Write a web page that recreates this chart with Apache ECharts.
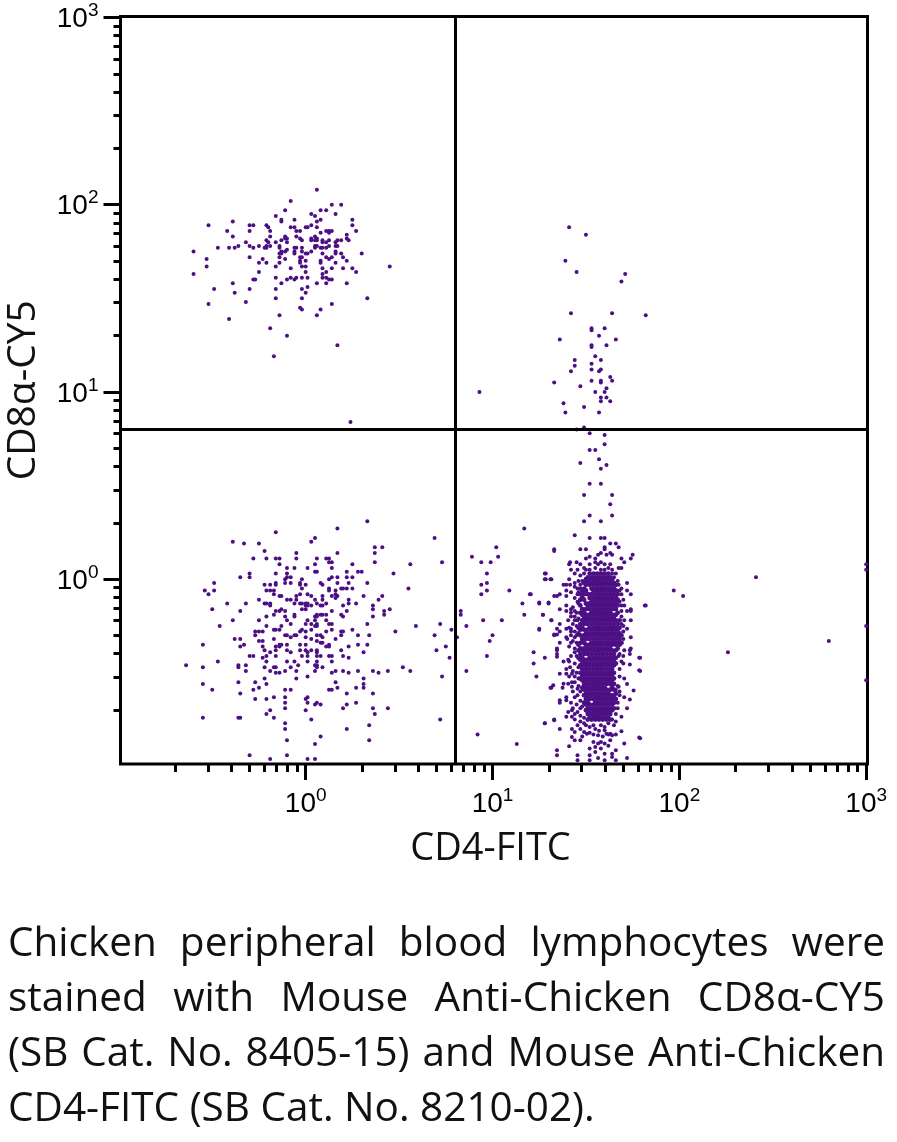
<!DOCTYPE html>
<html><head><meta charset="utf-8">
<style>html,body{margin:0;padding:0;background:#fff}#c{width:897px;height:1142px}</style>
<script src="https://cdn.jsdelivr.net/npm/echarts@6/dist/echarts.min.js"></script>
</head><body><div id="c"></div>
<script>
// All events are [log10 CD4-FITC, log10 CD8a-CY5].
const upperLeftEvents = [[.06,2.08],[-.08,2.02],[.14,2],[.19,2],[-.11,1.97],[.08,1.97],[.11,1.97],[.03,1.95],[.16,1.95],[.05,1.94],[-.16,1.94],[-.13,1.92],[-.13,1.91],[-.06,1.92],[.08,1.92],[.25,1.92],[.06,1.91],[-.39,1.91],[-.52,1.89],[-.3,1.89],[-.28,1.89],[-.21,1.89],[.25,1.89],[-.2,1.88],[-.08,1.88],[-.06,1.88],[0,1.88],[.01,1.88],[.03,1.89],[.06,1.88],[.11,1.86],[.125,1.86],[.14,1.86],[.125,1.85],[-.42,1.86],[-.3,1.86],[-.19,1.86],[-.05,1.86],[-.03,1.86],[.08,1.85],[.27,1.86],[-.39,1.83],[-.19,1.83],[-.11,1.83],[-.1,1.82],[-.05,1.83],[-.03,1.82],[-.02,1.81],[.03,1.82],[.05,1.83],[.06,1.82],[.05,1.81],[.03,1.81],[.06,1.81],[.22,1.84],[.22,1.82],[.23,1.81],[.09,1.81],[.09,1.8],[.19,1.81],[.17,1.81],[-.32,1.8],[-.3,1.78],[-.28,1.77],[-.36,1.78],[-.38,1.77],[-.41,1.77],[-.47,1.77],[-.25,1.78],[-.21,1.81],[-.2,1.8],[-.21,1.78],[-.19,1.78],[-.21,1.77],[-.22,1.77],[-.16,1.8],[-.13,1.81],[-.11,1.82],[-.14,1.78],[-.14,1.77],[-.1,1.8],[-.13,1.75],[-.11,1.75],[-.1,1.76],[-.14,1.74],[-.13,1.74],[-.14,1.72],[-.06,1.77],[-.05,1.77],[-.06,1.75],[-.06,1.74],[-.02,1.77],[-.02,1.75],[0,1.74],[.01,1.74],[.03,1.75],[.05,1.77],[.06,1.78],[.05,1.78],[.11,1.8],[.125,1.81],[.125,1.78],[.11,1.77],[.08,1.77],[.09,1.77],[.16,1.8],[.16,1.78],[.17,1.78],[.16,1.75],[.16,1.74],[.14,1.72],[.09,1.74],[.08,1.7],[.11,1.72],[.125,1.71],[.08,1.69],[-.03,1.72],[-.03,1.7],[-.02,1.72],[-.03,1.69],[-.02,1.67],[0,1.67],[0,1.7],[.19,1.74],[.2,1.72],[.22,1.7],[.3,1.74],[-.3,1.72],[-.23,1.71],[-.25,1.69],[-.21,1.69],[-.11,1.71],[-.14,1.69],[-.16,1.67],[-.53,1.71],[-.53,1.67],[-.6,1.75],[-.6,1.63],[.45,1.67],[.16,1.69],[.14,1.66],[.09,1.66],[.11,1.64],[.2,1.66],[.25,1.66],[.27,1.64],[-.08,1.66],[0,1.64],[-.25,1.64],[.09,1.63],[.09,1.61],[.11,1.61],[.125,1.6],[.14,1.6],[-.28,1.6],[-.27,1.6],[-.16,1.61],[-.1,1.6],[-.08,1.61],[-.06,1.6],[-.05,1.61],[-.02,1.61],[.01,1.61],[-.13,1.58],[.06,1.58],[.11,1.58],[.22,1.58],[-.39,1.58],[.01,1.56],[-.02,1.55],[0,1.53],[-.49,1.55],[-.3,1.55],[-.16,1.55],[-.38,1.53],[-.16,1.5],[-.02,1.5],[.33,1.5],[-.32,1.48],[-.52,1.47],[.14,1.47],[-.03,1.45],[-.02,1.44],[.08,1.44],[-.14,1.41],[.06,1.41],[-.41,1.39],[-.19,1.34],[-.1,1.3],[.17,1.25],[-.17,1.19],[.24,.84]];

const lowerLeftEvents = [[.33,.31],[.17,.27],[-.16,.25],[.69,.22],[.05,.22],[.03,.2],[-.39,.2],[-.33,.19],[-.25,.19],[-.22,.15],[.37,.17],[.41,.17],[.37,.14],[-.05,.14],[-.05,.11],[.17,.14],[-.28,.11],[-.21,.11],[-.16,.11],[-.14,.11],[.06,.11],[.11,.11],[.125,.11],[.125,.09],[.14,.09],[.37,.09],[.73,.09],[-.14,.08],[.05,.08],[.25,.08],[.56,.08],[-.1,.06],[-.06,.06],[.01,.06],[.14,.06],[.05,.04],[.06,.04],[.22,.04],[.28,.04],[.3,.04],[-.3,.03],[-.3,.01],[-.35,.01],[-.16,.03],[-.1,.03],[-.1,.01],[-.08,.01],[.47,.03],[.14,.01],[.125,0],[.17,.01],[.22,.01],[.25,.01],[-.11,0],[-.11,-.02],[-.16,-.02],[-.16,-.03],[-.08,-.02],[-.02,0],[-.03,-.02],[-.03,-.03],[0,-.03],[.08,-.02],[.09,-.03],[.17,-.02],[.23,-.02],[.33,-.02],[-.49,-.02],[-.54,-.06],[-.52,-.08],[-.49,-.06],[-.22,-.03],[-.19,-.03],[-.02,-.05],[.125,-.05],[.125,-.06],[.19,-.05],[.2,-.05],[.22,-.05],[.25,-.05],[.55,-.05],[-.21,-.06],[-.19,-.06],[-.17,-.06],[-.17,-.08],[-.14,-.09],[-.13,-.09],[-.03,-.08],[.01,-.08],[.03,-.09],[-.05,-.09],[.16,-.06],[.16,-.08],[.16,-.1],[.17,-.09],[.14,-.09],[.31,-.09],[.41,-.09],[.39,-.11],[.09,-.09],[.09,-.11],[-.25,-.11],[-.42,-.13],[-.32,-.13],[-.22,-.13],[-.19,-.13],[-.21,-.13],[-.19,-.14],[-.1,-.11],[-.08,-.11],[-.06,-.13],[-.05,-.11],[-.03,-.13],[-.02,-.13],[0,-.13],[.01,-.13],[.05,-.11],[.06,-.13],[0,-.14],[-.02,-.16],[0,-.16],[.01,-.14],[.03,-.14],[.09,-.14],[.11,-.13],[.08,-.14],[.23,-.11],[.23,-.13],[.27,-.13],[.2,-.14],[-.16,-.17],[-.14,-.17],[-.13,-.16],[-.11,-.17],[-.17,-.19],[.36,-.14],[.36,-.16],[.45,-.16],[-.5,-.16],[-.35,-.17],[.14,-.17],[.22,-.17],[.19,-.19],[.2,-.2],[.42,-.17],[.42,-.19],[.36,-.2],[.05,-.2],[.06,-.19],[.08,-.19],[.09,-.19],[.11,-.19],[.06,-.2],[.05,-.22],[.01,-.22],[0,-.24],[.03,-.24],[.06,-.24],[.06,-.25],[.05,-.25],[.11,-.22],[.125,-.24],[.14,-.24],[-.11,-.2],[-.1,-.22],[-.06,-.19],[-.06,-.2],[-.08,-.24],[-.39,-.22],[-.25,-.22],[-.21,-.2],[-.21,-.25],[-.46,-.25],[.33,-.24],[.59,-.25],[.72,-.24],[.78,-.27],[-.17,-.27],[-.16,-.27],[-.14,-.27],[-.13,-.25],[.14,-.27],[.25,-.27],[.48,-.28],[.69,-.3],[-.02,-.27],[-.03,-.28],[0,-.28],[-.05,-.3],[-.06,-.3],[.03,-.27],[-.27,-.28],[-.25,-.28],[-.23,-.28],[-.27,-.3],[-.11,-.3],[-.1,-.3],[-.08,-.31],[.11,-.28],[.06,-.3],[.08,-.3],[.09,-.31],[0,-.31],[.03,-.32],[.19,-.28],[.2,-.28],[.19,-.3],[.16,-.32],[.28,-.3],[.34,-.3],[-.38,-.32],[-.35,-.32],[-.17,-.32],[-.25,-.33],[-.23,-.33],[.06,-.33],[.08,-.34],[.09,-.34],[.125,-.35],[.125,-.36],[.11,-.36],[-.55,-.35],[-.33,-.35],[-.35,-.36],[-.14,-.35],[-.13,-.35],[-.1,-.35],[-.03,-.35],[0,-.35],[-.14,-.36],[-.16,-.36],[-.16,-.38],[.28,-.35],[.33,-.35],[.23,-.36],[.19,-.38],[.75,-.36],[.7,-.38],[-.23,-.36],[-.22,-.38],[-.1,-.38],[-.03,-.38],[0,-.38],[.03,-.38],[.06,-.38],[-.19,-.39],[-.21,-.41],[-.3,-.41],[-.28,-.41],[-.16,-.41],[-.08,-.39],[-.02,-.41],[.01,-.39],[.01,-.41],[.06,-.39],[.06,-.41],[.08,-.41],[.125,-.41],[.14,-.41],[.2,-.41],[.31,-.39],[-.23,-.42],[.23,-.42],[.77,-.42],[-.47,-.44],[-.1,-.44],[-.06,-.44],[.01,-.44],[.14,-.44],[-.21,-.44],[.06,-.44],[-.36,-.46],[-.36,-.47],[-.32,-.46],[-.64,-.46],[-.04,-.46],[.05,-.46],[.06,-.46],[.06,-.47],[.09,-.47],[-.55,-.47],[-.22,-.47],[-.17,-.47],[-.16,-.47],[-.08,-.47],[.52,-.47],[-.32,-.49],[-.19,-.49],[-.11,-.49],[-.05,-.49],[.05,-.49],[.16,-.49],[.14,-.5],[.2,-.49],[.28,-.49],[.36,-.49],[.44,-.49],[.56,-.49],[.23,-.5],[.39,-.5],[-.16,-.5],[-.14,-.5],[.01,-.52],[.73,-.52],[-.05,-.53],[.31,-.53],[-.36,-.55],[-.27,-.55],[-.21,-.56],[.16,-.55],[-.55,-.56],[-.22,-.53],[.31,-.56],[.31,-.58],[.17,-.58],[.27,-.58],[-.25,-.58],[-.28,-.59],[-.5,-.59],[-.11,-.59],[-.08,-.59],[.125,-.59],[.14,-.59],[-.35,-.61],[.22,-.61],[.36,-.61],[-.11,-.63],[-.17,-.63],[.01,-.63],[0,-.64],[.01,-.66],[-.27,-.64],[-.21,-.64],[-.11,-.66],[.06,-.66],[.05,-.67],[.08,-.67],[.27,-.66],[.22,-.67],[.2,-.69],[-.11,-.69],[.36,-.69],[.44,-.69],[-.19,-.7],[-.21,-.72],[0,-.7],[.37,-.72],[-.55,-.74],[-.36,-.74],[-.35,-.74],[-.17,-.74],[.03,-.75],[.72,-.75],[-.11,-.77],[.34,-.78],[-.11,-.8],[.22,-.8],[.08,-.84],[-.1,-.86],[.34,-.86],[.05,-.88],[-.3,-.94],[-.1,-.94],[-.19,-.96],[.01,-.96],[.05,-.96]];

const scatteredEvents = [[1.17,.27],[1.33,.15],[1.02,.17],[.89,.12],[1.03,.12],[.94,.09],[.99,.09],[.97,.03],[1.28,.03],[1.28,0],[1.315,0],[.97,-.02],[.94,-.03],[.97,-.06],[.94,-.08],[1.09,-.06],[1.2,-.08],[1.16,-.13],[1.25,-.13],[1.3,-.13],[.83,-.17],[.83,-.19],[1.17,-.19],[1.27,-.19],[.95,-.22],[1.05,-.22],[1.315,-.22],[.86,-.25],[1.25,-.27],[1,-.3],[.985,-.33],[.81,-.31],[1.33,-.3],[1.22,-.39],[1.28,-.42],[.97,-.41],[1.22,-.45],[.86,-.49],[1.235,-.52],[1.315,-.58],[1.28,-.77],[1.33,-.75],[.92,-.83],[1.13,-.88],[1.82,-.14],[1.97,-.06],[2.02,-.09],[2.41,.01],[2.26,-.39],[2.8,-.33],[1.79,-.42],[1.79,-.49],[1.79,-.85],[3,.08],[3,.05],[3,-.25],[3,-.54],[.93,1]];

const upperStalkEvents = [[1.41,1.88],[1.5,1.84],[1.39,1.7],[1.45,1.64],[1.71,1.63],[1.69,1.59],[1.42,1.42],[1.64,1.42],[1.82,1.41],[1.53,1.34],[1.53,1.33],[1.6,1.34],[1.57,1.3],[1.36,1.28],[1.66,1.28],[1.53,1.25],[1.53,1.24],[1.61,1.25],[1.55,1.19],[1.44,1.17],[1.58,1.17],[1.53,1.15],[1.44,1.14],[1.53,1.12],[1.58,1.12],[1.42,1.11],[1.57,1.11],[1.63,1.08],[1.64,1.06],[1.53,1.06],[1.58,1.06],[1.58,1.05],[1.33,1.05],[1.47,1.03],[1.61,1.02],[1.6,1],[1.55,1],[1.58,.97],[1.58,.95],[1.61,.97],[1.63,.95],[1.38,.94],[1.49,.92],[1.39,.89],[1.57,.89],[1.49,.81],[1.45,.8],[1.52,.78],[1.6,.77],[1.6,.72],[1.52,.69],[1.55,.69],[1.57,.64],[1.47,.62],[1.61,.61],[1.58,.59],[1.52,.51],[1.58,.51],[1.49,.45],[1.64,.45],[1.63,.4],[1.52,.34],[1.64,.34],[1.49,.31],[1.58,.31]];

const clusterEdgeEvents = [[1.44,.235],[1.52,.22],[1.58,.22],[1.6,.22],[1.33,.16],[1.47,.16],[1.5,.16],[1.6,.17],[1.6,.16],[1.63,.19],[1.66,.19],[1.675,.17],[1.75,.13],[1.74,.11],[1.61,.13],[1.64,.13],[1.63,.14],[1.69,.11],[1.52,.12],[1.5,.11],[1.55,.11],[1.565,.13],[1.58,.14],[1.415,.09],[1.41,.08],[1.45,.09],[1.47,.08],[1.49,.06],[1.52,.08],[1.55,.09],[1.565,.08],[1.58,.09],[1.6,.08],[1.63,.08],[1.705,.09],[1.675,.06],[1.69,.06],[1.42,.05],[1.44,.03],[1.455,.05],[1.49,.03],[1.52,.05],[1.55,.06],[1.58,.05],[1.64,.05],[1.285,.03],[1.285,0],[1.31,0],[1.72,-.02],[1.41,0],[1.44,-.02],[1.415,-.03],[1.38,-.03],[1.395,-.03],[1.455,-.05],[1.47,-.03],[1.675,-.03],[1.69,-.05],[1.72,-.06],[1.74,-.08],[1.395,-.06],[1.395,-.09],[1.36,-.08],[1.345,-.09],[1.33,-.09],[1.42,-.07],[1.455,-.08],[1.205,-.08],[1.815,-.14],[1.25,-.125],[1.3,-.125],[1.36,-.16],[1.395,-.14],[1.395,-.17],[1.42,-.16],[1.42,-.18],[1.455,-.12],[1.44,-.17],[1.69,-.08],[1.69,-.14],[1.705,-.14],[1.74,-.16],[1.74,-.17],[1.72,-.17],[1.27,-.19],[1.315,-.22],[1.405,-.22],[1.42,-.2],[1.44,-.22],[1.455,-.22],[1.705,-.22],[1.74,-.22],[1.69,-.2],[1.25,-.265],[1.345,-.265],[1.36,-.24],[1.395,-.265],[1.42,-.265],[1.345,-.295],[1.33,-.295],[1.36,-.28],[1.7,-.28],[1.74,-.31],[1.72,-.265],[1.36,-.34],[1.345,-.37],[1.42,-.28],[1.395,-.31],[1.44,-.31],[1.42,-.34],[1.44,-.37],[1.69,-.34],[1.74,-.37],[1.345,-.38],[1.345,-.4],[1.345,-.415],[1.38,-.44],[1.405,-.43],[1.415,-.47],[1.395,-.48],[1.36,-.505],[1.395,-.505],[1.425,-.505],[1.44,-.52],[1.735,-.38],[1.735,-.4],[1.785,-.42],[1.735,-.456],[1.785,-.486],[1.705,-.38],[1.675,-.41],[1.705,-.53],[1.72,-.56],[1.755,-.595],[1.705,-.63],[1.735,-.643],[1.72,-.69],[1.69,-.735],[1.675,-.575],[1.66,-.59],[1.425,-.55],[1.405,-.558],[1.38,-.558],[1.325,-.567],[1.31,-.58],[1.375,-.58],[1.425,-.575],[1.455,-.585],[1.455,-.62],[1.395,-.63],[1.395,-.647],[1.36,-.647],[1.36,-.66],[1.425,-.7],[1.405,-.71],[1.395,-.735],[1.425,-.735],[1.44,-.75],[1.455,-.71],[1.47,-.69],[1.28,-.77],[1.33,-.753],[1.36,-.8],[1.425,-.8],[1.44,-.816],[1.425,-.843],[1.44,-.86],[1.47,-.86],[1.785,-.846],[1.705,-.878],[1.69,-.812],[1.66,-.83],[1.64,-.834],[1.63,-.825],[1.455,-.78],[1.47,-.8],[1.49,-.816],[1.505,-.825],[1.52,-.79],[1.55,-.8],[1.565,-.834],[1.6,-.807],[1.61,-.825],[1.63,-.86],[1.6,-.878],[1.565,-.878],[1.55,-.896],[1.52,-.905],[1.41,-.893],[1.345,-.914],[1.345,-.94],[1.455,-.94],[1.455,-.967],[1.52,-.94],[1.55,-.923],[1.58,-.905],[1.6,-.932],[1.64,-.932],[1.64,-.95],[1.66,-.914],[1.72,-.955],[1.565,-.955],[1.52,-.967],[1.6,-.967],[1.66,-.967]];

const clusterFringeEvents = [[1.46,-.01],[1.44,-.04],[1.46,-.07],[1.44,-.1],[1.46,-.13],[1.43,-.15],[1.45,-.18],[1.44,-.2],[1.46,-.21],[1.43,-.24],[1.45,-.25],[1.41,-.26],[1.44,-.28],[1.42,-.3],[1.45,-.3],[1.4,-.32],[1.43,-.33],[1.45,-.34],[1.41,-.36],[1.44,-.39],[1.42,-.41],[1.45,-.41],[1.41,-.44],[1.44,-.45],[1.46,-.47],[1.43,-.49],[1.45,-.5],[1.41,-.52],[1.46,-.53],[1.44,-.55],[1.46,-.57],[1.43,-.6],[1.47,-.6],[1.44,-.63],[1.47,-.65],[1.42,-.66],[1.45,-.67],[1.48,-.68],[1.43,-.69],[1.47,-.73],[1.49,-.74],[1.44,-.72],[1.47,-.76],[1.5,-.78],[1.49,-.77],[1.54,-.78],[1.58,-.78],[1.6,-.79],[1.62,-.77],[1.65,-.78],[1.64,-.75],[1.66,-.76],[1.52,-.82],[1.54,-.83],[1.57,-.81],[1.59,-.84],[1.62,-.83],[1.48,-.84],[1.54,-.87],[1.58,-.87],[1.62,-.89],[1.66,-.72],[1.67,-.69],[1.67,-.66],[1.68,-.62],[1.68,-.6],[1.67,-.57],[1.68,-.52],[1.68,-.48],[1.69,-.44],[1.7,-.41],[1.68,-.4],[1.7,-.45],[1.68,-.3],[1.7,-.32],[1.7,-.25],[1.69,-.24],[1.69,-.17],[1.68,-.12],[1.7,-.11],[1.68,-.06],[1.67,-.01],[1.65,.01],[1.66,.03],[1.64,.03],[1.62,.06],[1.6,.05],[1.5,.05],[1.47,.02],[1.48,-.01],[1.47,-.05]];

// Dense core of the CD4+ population, row by row: [log10 CD8a, ...log10 CD4 values]
const clusterCoreRows = [
[.03,1.52,1.54,1.56,1.58,1.6,1.62],
[.01,1.51,1.53,1.55,1.57,1.59,1.61,1.63],
[0,1.5,1.52,1.54,1.56,1.58,1.6,1.62,1.64],
[-.02,1.49,1.51,1.53,1.55,1.57,1.59,1.61,1.63,1.65],
[-.03,1.5,1.52,1.54,1.56,1.58,1.6,1.62,1.64,1.66],
[-.05,1.49,1.53,1.55,1.57,1.59,1.61,1.63,1.65],
[-.06,1.48,1.5,1.54,1.56,1.58,1.6,1.62,1.64,1.66],
[-.08,1.47,1.49,1.51,1.53,1.55,1.57,1.59,1.61,1.63,1.65,1.67],
[-.1,1.48,1.52,1.54,1.56,1.58,1.6,1.62,1.64,1.66],
[-.11,1.47,1.49,1.53,1.55,1.57,1.59,1.61,1.63,1.65,1.67],
[-.13,1.5,1.52,1.54,1.56,1.58,1.6,1.62,1.64,1.66],
[-.14,1.47,1.51,1.53,1.55,1.57,1.59,1.61,1.63,1.65,1.67],
[-.16,1.48,1.5,1.52,1.54,1.56,1.58,1.6,1.62,1.64,1.66],
[-.18,1.47,1.49,1.53,1.55,1.57,1.59,1.61,1.63,1.67],
[-.19,1.48,1.5,1.52,1.54,1.56,1.58,1.6,1.62,1.64,1.66],
[-.21,1.49,1.51,1.53,1.55,1.57,1.59,1.61,1.63,1.65],
[-.22,1.48,1.5,1.52,1.54,1.56,1.58,1.6,1.62,1.64,1.66,1.68],
[-.24,1.47,1.49,1.51,1.53,1.55,1.57,1.59,1.61,1.63,1.65,1.67],
[-.26,1.46,1.48,1.52,1.54,1.56,1.58,1.6,1.62,1.64,1.66,1.68],
[-.27,1.47,1.49,1.51,1.53,1.55,1.57,1.59,1.61,1.63,1.65,1.67],
[-.29,1.46,1.5,1.52,1.54,1.56,1.58,1.6,1.62,1.64,1.66,1.68],
[-.3,1.47,1.49,1.51,1.53,1.55,1.57,1.59,1.61,1.63,1.65,1.67,1.69],
[-.32,1.48,1.5,1.52,1.54,1.56,1.58,1.6,1.62,1.64,1.66,1.68],
[-.34,1.47,1.49,1.53,1.55,1.57,1.59,1.61,1.63,1.65,1.67,1.69],
[-.35,1.46,1.5,1.52,1.54,1.56,1.58,1.6,1.62,1.64,1.66,1.68],
[-.37,1.47,1.49,1.51,1.53,1.55,1.57,1.59,1.61,1.63,1.67],
[-.38,1.46,1.48,1.5,1.52,1.54,1.56,1.58,1.6,1.62,1.64,1.66],
[-.4,1.47,1.49,1.51,1.53,1.55,1.57,1.59,1.61,1.63,1.65],
[-.42,1.46,1.48,1.52,1.54,1.56,1.58,1.6,1.62,1.64,1.66],
[-.43,1.47,1.49,1.51,1.53,1.55,1.57,1.59,1.61,1.63,1.65],
[-.45,1.48,1.5,1.52,1.54,1.56,1.58,1.6,1.62,1.64,1.66],
[-.46,1.47,1.49,1.51,1.53,1.55,1.57,1.59,1.61,1.63,1.65],
[-.48,1.48,1.5,1.52,1.54,1.56,1.58,1.6,1.62,1.64],
[-.5,1.47,1.49,1.51,1.53,1.55,1.57,1.59,1.61,1.63,1.65],
[-.51,1.48,1.5,1.52,1.54,1.56,1.58,1.6,1.62,1.64],
[-.53,1.47,1.49,1.51,1.53,1.55,1.57,1.59,1.61,1.63,1.65],
[-.54,1.48,1.5,1.52,1.54,1.56,1.58,1.6,1.62,1.64],
[-.56,1.49,1.51,1.53,1.55,1.57,1.59,1.61,1.63,1.65],
[-.58,1.48,1.5,1.52,1.54,1.56,1.58,1.6,1.64],
[-.59,1.49,1.51,1.53,1.55,1.57,1.59,1.61,1.63,1.65],
[-.61,1.5,1.52,1.54,1.56,1.58,1.6,1.62,1.66],
[-.62,1.49,1.51,1.53,1.55,1.57,1.59,1.61,1.63,1.65],
[-.64,1.5,1.52,1.54,1.56,1.58,1.6,1.62,1.64,1.66],
[-.66,1.49,1.51,1.55,1.57,1.59,1.61,1.63,1.65],
[-.67,1.5,1.52,1.54,1.56,1.58,1.6,1.62,1.64],
[-.69,1.51,1.53,1.55,1.57,1.59,1.61,1.63,1.65],
[-.7,1.5,1.52,1.54,1.56,1.58,1.6,1.62,1.64],
[-.72,1.51,1.53,1.55,1.57,1.59,1.61,1.63],
[-.74,1.52,1.54,1.56,1.58,1.6,1.62],
[-.75,1.51,1.53,1.55,1.57,1.59,1.61,1.63]
];

const quadrantCD4 = 6.31;
const quadrantCD8 = 6.31;
const decadeTicks = [1, 10, 100, 1000];
const minorTicksX = [.2,.3,.4,.5,.6,.7,.8,.9,2,3,4,5,6,7,8,9,20,30,40,50,60,70,80,90,200,300,400,500,600,700,800,900];
const minorTicksY = minorTicksX;
const xTitle = 'CD4-FITC';
const yTitle = 'CD8α-CY5';
const captionLines = [
  'Chicken peripheral blood lymphocytes were',
  'stained with Mouse Anti-Chicken CD8α-CY5',
  '(SB Cat. No. 8405-15) and Mouse Anti-Chicken',
  'CD4-FITC (SB Cat. No. 8210-02).'
];

const toLinear = ([x, y]) => [Math.pow(10, x), Math.pow(10, y)];
const coreEvents = clusterCoreRows.flatMap(([y, ...xs]) => xs.map(x => [x, y]));
const events = [...upperLeftEvents, ...lowerLeftEvents, ...scatteredEvents, ...upperStalkEvents, ...clusterEdgeEvents, ...clusterFringeEvents].map(toLinear);

const labelFont = 'Liberation Sans';
const supLabel = v => '{b|10}{s|' + Math.round(Math.log10(v)) + '}';
const rich = {
  b: {fontFamily: labelFont, fontSize: 28, color: '#000', lineHeight: 32, verticalAlign: 'bottom'},
  s: {fontFamily: labelFont, fontSize: 19, color: '#000', lineHeight: 32, verticalAlign: 'top', padding:[0,0,7,0]}
};
const xRange = {type: 'log', logBase: 10, min: 0.1021, max: 1016, gridIndex: 0};
const yRange = {type: 'log', logBase: 10, min: 0.103, max: 1012, gridIndex: 0};

// justified caption, placed word by word
const captionFont = '40.5px "Open Sans"';
const ctx = document.createElement('canvas').getContext('2d');
ctx.font = captionFont;
const capLeft = 8, capRight = 885, capTop = 944, capStep = 55.3;
const captionText = [];
captionLines.forEach((line, i) => {
  const words = line.split(' ');
  const widths = words.map(w => ctx.measureText(w).width);
  const total = widths.reduce((a, b) => a + b, 0);
  const justified = i < captionLines.length - 1;
  const gap = justified ? (capRight - capLeft - total) / (words.length - 1) : ctx.measureText(' ').width;
  let x = capLeft;
  words.forEach((w, k) => {
    captionText.push({type: 'text', x, y: capTop + i * capStep,
      style: {text: w, font: captionFont, fill: '#111', verticalAlign: 'middle'}});
    x += widths[k] + gap;
  });
});

const chart = echarts.init(document.getElementById('c'), null, {renderer: 'canvas', width: 897, height: 1142});
chart.setOption({
  animation: false,
  backgroundColor: '#fff',
  grid: {left: 120.5, right: 29.5, top: 16.5, bottom: 378, show: true, borderColor: '#000', borderWidth: 3, backgroundColor: 'transparent', containLabel: false, outerBoundsMode: 'none'},
  xAxis: [
    {...xRange, position: 'bottom', name: xTitle, nameLocation: 'middle', nameGap: 66,
      nameTextStyle: {fontFamily: 'Open Sans', fontSize: 38, color: '#111', padding: [0, 7, 0, 0]},
      splitLine: {show: false}, minorTick: {show: false}, minorSplitLine: {show: false},
      axisLine: {show: false},
      axisTick: {show: true, length: 16, inside: false, customValues: decadeTicks, lineStyle: {color: '#000', width: 3}},
      axisLabel: {show: true, margin: 22, customValues: decadeTicks, formatter: supLabel, rich, showMinLabel: true, showMaxLabel: true}},
    {...xRange, position: 'bottom', splitLine: {show: false}, axisLine: {show: false},
      axisTick: {show: true, length: 8, customValues: minorTicksX, lineStyle: {color: '#000', width: 3}},
      axisLabel: {show: false}}
  ],
  yAxis: [
    {...yRange, position: 'left', name: yTitle, nameLocation: 'middle', nameGap: 77, nameRotate: 90,
      nameTextStyle: {fontFamily: 'Open Sans', fontSize: 39, color: '#111'},
      splitLine: {show: false}, axisLine: {show: false},
      axisTick: {show: true, length: 17, customValues: decadeTicks, lineStyle: {color: '#000', width: 3}},
      axisLabel: {show: true, margin: 22, customValues: decadeTicks, formatter: supLabel, rich, showMinLabel: true, showMaxLabel: true}},
    {...yRange, position: 'left', splitLine: {show: false}, axisLine: {show: false},
      axisTick: {show: true, length: 7, customValues: minorTicksY, lineStyle: {color: '#000', width: 3}},
      axisLabel: {show: false}}
  ],
  series: [{
    type: 'scatter', name: 'Events', xAxisIndex: 0, yAxisIndex: 0, data: events,
    symbol: 'circle', symbolSize: 4, itemStyle: {color: '#4c0f84', opacity: 1}, silent: true, clip: true,
    markLine: {silent: true, symbol: 'none', animation: false, label: {show: false},
      lineStyle: {color: '#000', width: 3, type: 'solid'},
      data: [{xAxis: quadrantCD4}, {yAxis: quadrantCD8}]}
  }, {
    type: 'scatter', name: 'Dense core', xAxisIndex: 0, yAxisIndex: 0, data: coreEvents.map(toLinear),
    symbol: 'circle', symbolSize: 4.8, itemStyle: {color: '#4c0f84', opacity: 1}, silent: true, clip: true
  }],
  graphic: {elements: captionText}
});
</script></body></html>
